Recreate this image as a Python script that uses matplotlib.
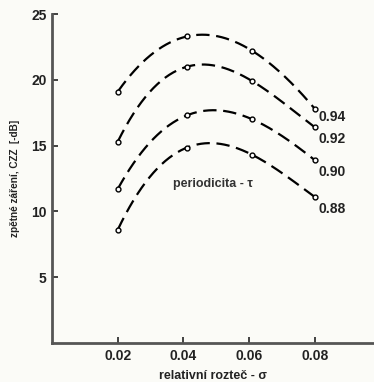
import numpy as np
import matplotlib
matplotlib.use("Agg")
import matplotlib.pyplot as plt

plt.rcParams['font.family'] = ['Liberation Sans', 'DejaVu Sans']

sigma = [0.02, 0.041, 0.061, 0.080]
tau_labels = ["0.94", "0.92", "0.90", "0.88"]
czz_094 = [19.1, 23.3, 22.2, 17.8]
czz_092 = [15.3, 21.0, 19.9, 16.4]
czz_090 = [11.7, 17.3, 17.0, 13.9]
czz_088 = [8.6, 14.85, 14.3, 11.1]
series = [czz_094, czz_092, czz_090, czz_088]
label_y = [17.2, 15.5, 13.0, 10.2]

xticks = [0.02, 0.04, 0.06, 0.08]
yticks = [5, 10, 15, 20, 25]

bg = '#fbfbf7'
fig = plt.figure(figsize=(3.74, 3.82), dpi=100, facecolor=bg)
ax = fig.add_axes([0.139, 0.102, 0.861, 0.861], facecolor=bg)

for vals, lab, ly in zip(series, tau_labels, label_y):
    coef = np.polyfit(sigma, vals, 3)
    xs = np.linspace(sigma[0], sigma[-1], 200)
    ax.plot(xs, np.polyval(coef, xs), color='black', lw=1.6, ls=(0, (6, 3)))
    ax.plot(sigma, vals, ls='none', marker='o', ms=3.5, mfc='white',
            mec='black', mew=1.0)
    ax.text(sigma[-1] + 0.0010, ly, lab, fontsize=10, fontweight='bold',
            color='#222222', va='center', ha='left')

ax.text(0.0489, 12.1, "periodicita - τ", fontsize=9, color='#333333',
        ha='center', va='center', fontweight='bold')

ax.set_xlim(0, 0.098)
ax.set_ylim(0, 25)
ax.set_xticks(xticks)
ax.set_xticklabels([f"{v:.2f}" for v in xticks])
ax.set_yticks(yticks)
ax.tick_params(direction='in', length=4, width=1.2, labelsize=10,
               colors='#222222', pad=4)
for t in ax.get_xticklabels() + ax.get_yticklabels():
    t.set_fontweight('bold')
for s in ['top', 'right']:
    ax.spines[s].set_visible(False)
for s in ['left', 'bottom']:
    ax.spines[s].set_linewidth(2.0)
    ax.spines[s].set_color('#555555')

ax.set_xlabel("relativní rozteč - σ", fontsize=9, fontweight='bold',
              color='#222222', labelpad=5)
ax.set_ylabel("zpětné záření, CZZ  [-dB]", fontsize=7.2, fontweight='bold',
              color='#222222', labelpad=8)

fig.savefig("out.png", dpi=100, facecolor=bg)
